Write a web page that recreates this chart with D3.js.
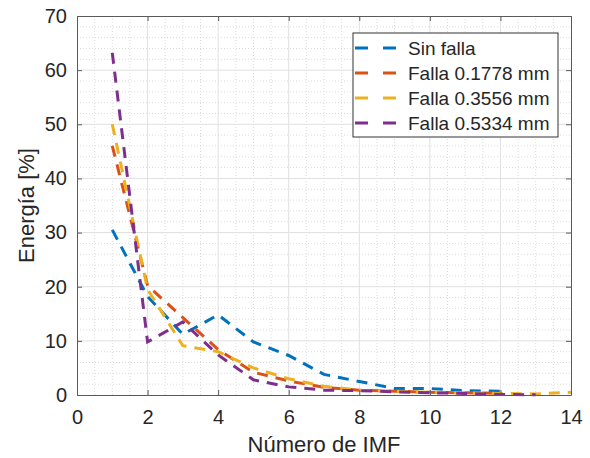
<!DOCTYPE html>
<html>
<head>
<meta charset="utf-8">
<script src="https://cdn.jsdelivr.net/npm/d3@7"></script>
<style>
  body { margin: 0; background: #fff; }
  svg text { font-family: "Liberation Sans", Arial, sans-serif; fill: #262626; }
</style>
</head>
<body>
<script>
// values, x = IMF 1..n
var sinFalla = [30.5, 18.2, 11.2, 14.8, 9.8, 7.3, 3.8, 2.5, 1.2, 1.2, 0.8, 0.7];
var falla1778 = [46, 20.2, 14.3, 8.4, 4.2, 2.6, 1.4, 0.9, 0.7, 0.5, 0.4, 0.3];
var falla3556 = [50, 19.5, 9.1, 8.0, 5.0, 3.0, 1.6, 0.9, 0.7, 0.5, 0.4, 0.3, 0.2, 0.5];
var falla5334 = [63.2, 9.8, 13.5, 7.4, 2.8, 1.5, 0.9, 0.8, 0.6, 0.4, 0.3, 0.1, 0.05];

var seriesNames = ['Sin falla', 'Falla 0.1778 mm', 'Falla 0.3556 mm', 'Falla 0.5334 mm'];
var seriesColors = ['#0072BD', '#D95319', '#EDB120', '#7E2F8E'];
var xTicks = [0, 2, 4, 6, 8, 10, 12, 14];
var yTicks = [0, 10, 20, 30, 40, 50, 60, 70];

var width = 590, height = 458;
var margin = { top: 16, right: 19, bottom: 63, left: 77 };
var w = width - margin.left - margin.right;
var h = height - margin.top - margin.bottom;

var svg = d3.select('body').append('svg')
  .attr('width', width)
  .attr('height', height);

var g = svg.append('g')
  .attr('transform', 'translate(' + margin.left + ',' + margin.top + ')');

var x = d3.scaleLinear().domain([0, 14]).range([0, w]);
var y = d3.scaleLinear().domain([0, 70]).range([h, 0]);

// minor grid (dotted)
g.append('g').selectAll('line')
  .data(d3.range(0.5, 14, 0.5).filter(function(d) { return d % 2 !== 0; }))
  .enter().append('line')
    .attr('x1', function(d) { return x(d); })
    .attr('x2', function(d) { return x(d); })
    .attr('y1', 0).attr('y2', h)
    .attr('stroke', '#dcdcdc')
    .attr('stroke-dasharray', '1,2');

g.append('g').selectAll('line')
  .data(d3.range(2, 70, 2).filter(function(d) { return d % 10 !== 0; }))
  .enter().append('line')
    .attr('y1', function(d) { return y(d); })
    .attr('y2', function(d) { return y(d); })
    .attr('x1', 0).attr('x2', w)
    .attr('stroke', '#dcdcdc')
    .attr('stroke-dasharray', '1,2');

// major grid
g.append('g').selectAll('line')
  .data(xTicks.slice(1, -1))
  .enter().append('line')
    .attr('x1', function(d) { return x(d); })
    .attr('x2', function(d) { return x(d); })
    .attr('y1', 0).attr('y2', h)
    .attr('stroke', '#e0e0e0');

g.append('g').selectAll('line')
  .data(yTicks.slice(1, -1))
  .enter().append('line')
    .attr('y1', function(d) { return y(d); })
    .attr('y2', function(d) { return y(d); })
    .attr('x1', 0).attr('x2', w)
    .attr('stroke', '#e0e0e0');

// data lines
var allSeries = [sinFalla, falla1778, falla3556, falla5334];
var line = d3.line()
  .x(function(d, i) { return x(i + 1); })
  .y(function(d) { return y(d); });

g.selectAll('.serie')
  .data(allSeries)
  .enter().append('path')
    .attr('class', 'serie')
    .attr('d', line)
    .attr('fill', 'none')
    .attr('stroke', function(d, i) { return seriesColors[i]; })
    .attr('stroke-width', 3)
    .attr('stroke-dasharray', '11,8');

// axes, ticks pointing in, box on
function styleAxis(sel) {
  sel.select('.domain').attr('stroke', '#5a5a5a');
  sel.selectAll('.tick line').attr('stroke', '#5a5a5a');
  sel.selectAll('.tick text').style('font-size', '20px').attr('fill', '#262626');
}

g.append('g')
  .attr('transform', 'translate(0,' + h + ')')
  .call(d3.axisBottom(x).tickValues(xTicks).tickSizeInner(-5).tickSizeOuter(0).tickPadding(15))
  .call(styleAxis);

g.append('g')
  .call(d3.axisTop(x).tickValues(xTicks).tickSizeInner(-5).tickSizeOuter(0).tickFormat(''))
  .call(styleAxis);

g.append('g')
  .call(d3.axisLeft(y).tickValues(yTicks).tickSizeInner(-5).tickSizeOuter(0).tickPadding(10))
  .call(styleAxis);

g.append('g')
  .attr('transform', 'translate(' + w + ',0)')
  .call(d3.axisRight(y).tickValues(yTicks).tickSizeInner(-5).tickSizeOuter(0).tickFormat(''))
  .call(styleAxis);

// axis labels
svg.append('text')
  .attr('x', margin.left + w / 2)
  .attr('y', 452)
  .attr('text-anchor', 'middle')
  .style('font-size', '22px')
  .text('Número de IMF');

svg.append('text')
  .attr('transform', 'translate(34,' + (margin.top + h / 2) + ') rotate(-90)')
  .attr('text-anchor', 'middle')
  .style('font-size', '22px')
  .text('Energía [%]');

// legend
var legend = svg.append('g').attr('transform', 'translate(353,33)');
legend.append('rect')
  .attr('width', 205).attr('height', 104)
  .attr('fill', '#fff')
  .attr('stroke', '#333');

var items = legend.selectAll('.item')
  .data(seriesNames)
  .enter().append('g')
    .attr('transform', function(d, i) { return 'translate(0,' + (15 + i * 25) + ')'; });

items.append('line')
  .attr('x1', 2).attr('x2', 49)
  .attr('stroke', function(d, i) { return seriesColors[i]; })
  .attr('stroke-width', 3)
  .attr('stroke-dasharray', '13,15');

items.append('text')
  .attr('x', 55)
  .attr('y', 7)
  .style('font-size', '19px')
  .text(function(d) { return d; });
</script>
</body>
</html>
